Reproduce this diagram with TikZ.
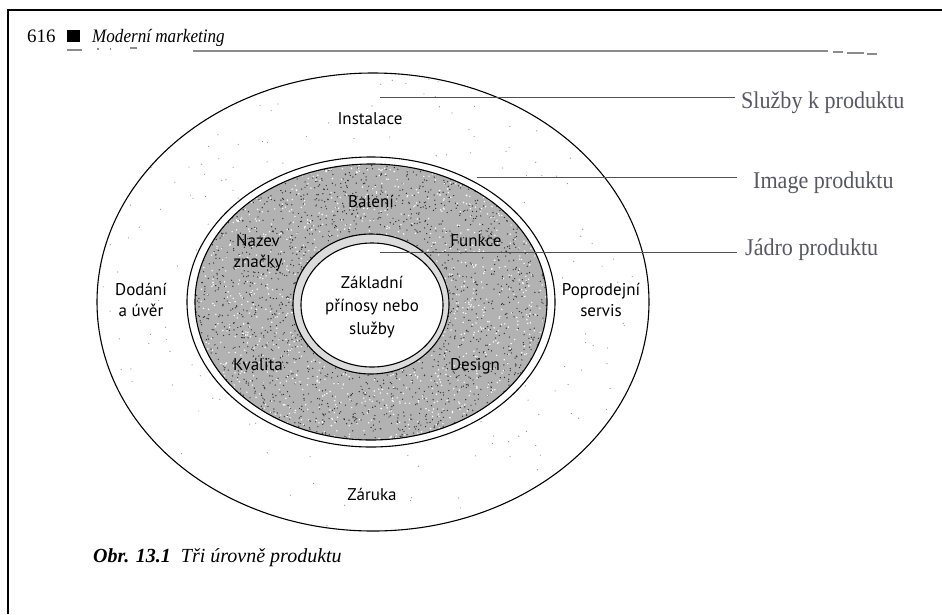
\documentclass[tikz,border=0pt]{standalone}
\usepackage{fontspec}
\setmainfont{Liberation Serif}
\newfontfamily\labelfont{PT Sans}
\definecolor{leadgray}{RGB}{80,80,80}
\definecolor{rightlab}{RGB}{88,88,100}
\definecolor{headline}{RGB}{140,140,140}
\begin{document}
\begin{tikzpicture}[x=1pt,y=-1pt,
  ring/.style={draw=black,line width=1.1pt},
  lab/.style={font=\labelfont\fontsize{17}{21}\selectfont,align=center,inner sep=0pt},
  rlab/.style={font=\fontsize{24}{28}\selectfont,text=rightlab,inner ysep=0pt,anchor=base west},
  leader/.style={draw=leadgray,line width=0.9pt}]
\useasboundingbox (0,0) rectangle (942,614);
% page frame
\draw[line width=1.2pt] (942,10) -- (8,10) -- (8,614);
% running head
\node[anchor=base west,inner sep=0pt,font=\fontsize{19}{21}\selectfont] (pg) at (27,42) {616};
\fill (67,30) rectangle (80,42);
\node[anchor=base west,inner sep=0pt,font=\fontsize{19}{21}\selectfont\itshape] (hd) at (92,42) {\scalebox{0.9}[1]{Modern\'{\i} marketing}};
\begin{scope}[headline,line width=1.3pt]
\draw (67,50) -- (82,50);
\draw (97,49) -- (99,49);
\draw (110,49) -- (111,49);
\draw (130,48) -- (137,48);
\draw (193,51) -- (828,51);
\draw (833,52) -- (843,52);
\draw (847,53) -- (864,53);
\draw (867,54) -- (877,54);
\end{scope}
% outer ellipse with sparse dots
\begin{scope}
\clip (373,302) ellipse [x radius=276,y radius=229];
\pgfmathsetseed{11}
\foreach \i in {1,...,350}{
  \pgfmathsetmacro\px{97+552*rnd}
  \pgfmathsetmacro\py{73+459*rnd}
  \fill[black!45] (\px,\py) circle[radius=0.6];
}
\end{scope}
\draw[ring] (373,302) ellipse [x radius=276,y radius=229];
% middle (image) ellipse, double line
\filldraw[ring,fill=white] (371,302) ellipse [x radius=184,y radius=145];
\begin{scope}
\clip (371,302) ellipse [x radius=176,y radius=138];
\fill[black!30] (190,160) rectangle (552,445);
\pgfmathsetseed{7}
\foreach \i in {1,...,2600}{
  \pgfmathsetmacro\px{195+352*rnd}
  \pgfmathsetmacro\py{164+276*rnd}
  \fill[black!80] (\px,\py) circle[radius=0.7];
}
\foreach \i in {1,...,1400}{
  \pgfmathsetmacro\px{195+352*rnd}
  \pgfmathsetmacro\py{164+276*rnd}
  \fill[white] (\px,\py) circle[radius=0.8];
}
\end{scope}
\draw[ring] (371,302) ellipse [x radius=176,y radius=138];
% core ellipse, double line
\filldraw[ring,fill=black!14] (371,304) ellipse [x radius=78,y radius=70];
\filldraw[ring,fill=white] (372,305) ellipse [x radius=71,y radius=62];
% labels
\node[lab,anchor=base] (inst) at (370,124) {Instalace};
\node[lab,anchor=base] (bal) at (371,207) {Balen\'{\i}};
\node[lab] (naz) at (258,253) {Nazev\\zna\v{c}ky};
\node[lab,anchor=base] (fun) at (476,246) {Funkce};
\node[lab] (dod) at (141,300) {Dod\'an\'{\i}\\a \'uv\v{e}r};
\node[lab,font=\labelfont\fontsize{17}{23}\selectfont] (zak) at (372,307) {Z\'akladn\'{\i}\\p\v{r}\'{\i}nosy nebo\\slu\v{z}by};
\node[lab] (pop) at (601,300) {Poprodejn\'{\i}\\servis};
\node[lab,anchor=base] (kva) at (258,370) {Kvalita};
\node[lab,anchor=base] (des) at (475,370) {Design};
\node[lab,anchor=base] (zar) at (372,500) {Z\'aruka};
% right labels and leader lines
\node[rlab,inner xsep=6pt] (sluz) at (735,108) {\scalebox{0.92}[1]{Slu\v{z}by k produktu}};
\node[rlab,inner xsep=16pt] (img) at (737,188) {\scalebox{0.92}[1]{Image produktu}};
\node[rlab,inner xsep=8pt] (jad) at (737,255) {\scalebox{0.92}[1]{J\'adro produktu}};
\coordinate (s0) at (380,97);
\coordinate (i0) at (477,177);
\coordinate (j0) at (380,252);
\draw[leader] (s0) -- (s0 -| sluz.west);
\draw[leader] (i0) -- (i0 -| img.west);
\draw[leader] (j0) -- (j0 -| jad.west);
% caption
\node[anchor=base west,inner sep=0pt,font=\fontsize{20}{23}\selectfont] (cap) at (93,562) {\textbf{\textit{Obr. 13.1}}\ \ \textit{T\v{r}i \'urovn\v{e} produktu}};
\end{tikzpicture}
\end{document}
